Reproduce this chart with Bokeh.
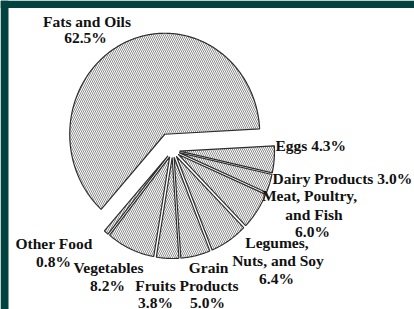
import numpy as np
from bokeh.plotting import figure
from bokeh.models import Range1d, ColumnDataSource
from bokeh.embed import file_html
from bokeh.resources import INLINE
from bokeh.core.properties import value

# ---------------- data ----------------
categories = ["Fats and Oils", "Eggs", "Dairy Products", "Meat, Poultry, and Fish",
              "Legumes, Nuts, and Soy", "Grain Products", "Fruits", "Vegetables", "Other Food"]
shares = [62.5, 4.3, 3.0, 6.0, 6.4, 5.0, 3.8, 8.2, 0.8]
# how each category label is broken into lines ("{p}" = the percentage)
label_lines = [["Fats and Oils", "{p}"], ["Eggs {p}"], ["Dairy Products {p}"],
               ["Meat, Poultry,", "and Fish", "{p}"], ["Legumes,", "Nuts, and Soy", "{p}"],
               ["Grain", "Products", "{p}"], ["Fruits", "{p}"], ["Vegetables", "{p}"],
               ["Other Food", "{p}"]]

# ---------------- layout (picture pixels) ----------------
W, H = 414, 309
FRAME = "#02423f"
CX, CY = 172.0, 150.0          # pie hub
RX, RY = 95.0, 101.0           # slightly taller than wide, as in the scan
EDGE0 = 228.0                  # angle (deg) of the edge between "Other Food" and "Fats and Oils"
EXPLODE = [18, 7, 7, 7, 7, 7, 7, 7, 7]
TEXT_DY = -3.5
# per label line: (x, baseline y, align)
label_pos = [
    [(86.5, 24, "center"), (85, 40, "center")],
    [(275, 148, "left")],
    [(272, 181, "left")],
    [(309, 198, "center"), (313.5, 217, "center"), (312, 234, "center")],
    [(276.5, 245, "center"), (277.5, 263, "center"), (276, 281, "center")],
    [(208, 270, "center"), (208.5, 288, "center"), (207, 305, "center")],
    [(155, 288, "center"), (155, 305, "center")],
    [(108, 270, "center"), (107, 288, "center")],
    [(53.5, 246, "center"), (53, 264, "center")],
]

p = figure(width=W, height=H, output_backend="svg", toolbar_location=None,
           x_range=Range1d(0, W), y_range=Range1d(H, 0),
           min_border=0, outline_line_color=None,
           background_fill_color="white", border_fill_color="white")
p.axis.visible = False
p.grid.visible = False

# dark frame strips along the top and the left edge
p.quad(left=[0, 0], right=[W, 8], top=[0, 0], bottom=[7.5, H],
       fill_color=FRAME, line_color=None)

# ---------------- wedges ----------------
xs, ys = [], []
cum = 0.0
for share, d in zip(shares, EXPLODE):
    t_hi = EDGE0 - cum * 3.6
    t_lo = t_hi - share * 3.6
    cum += share
    mid = np.radians((t_hi + t_lo) / 2)
    ox = CX + d * np.cos(mid)
    oy = CY - d * np.sin(mid)
    n = max(4, int(abs(t_hi - t_lo) * 2))
    t = np.radians(np.linspace(t_hi, t_lo, n))
    px = np.concatenate([[ox], ox + RX * np.cos(t)])
    py = np.concatenate([[oy], oy - RY * np.sin(t)])
    xs.append(list(px))
    ys.append(list(py))

src = ColumnDataSource(dict(xs=xs, ys=ys, name=categories))
p.patches("xs", "ys", source=src, fill_color="white",
          hatch_pattern="\\", hatch_scale=4, hatch_weight=0.8, hatch_color="#6e6e6e",
          line_color="#2e2e2e", line_width=1.2)

# ---------------- labels ----------------
cols = {"left": dict(x=[], y=[], t=[]), "center": dict(x=[], y=[], t=[])}
for share, lines, poss in zip(shares, label_lines, label_pos):
    pct = f"{share:.1f}%"
    for line, (lx, ly, al) in zip(lines, poss):
        cols[al]["x"].append(lx)
        cols[al]["y"].append(ly + TEXT_DY)
        cols[al]["t"].append(line.replace("{p}", pct))

for al, c in cols.items():
    p.text(x=c["x"], y=c["y"], text=c["t"], text_align=al, text_baseline="alphabetic",
           text_font=value("Liberation Serif"), text_font_style="bold",
           text_font_size="15.5px", text_color="#111111")

open("out.html", "w").write(file_html(p, INLINE))
